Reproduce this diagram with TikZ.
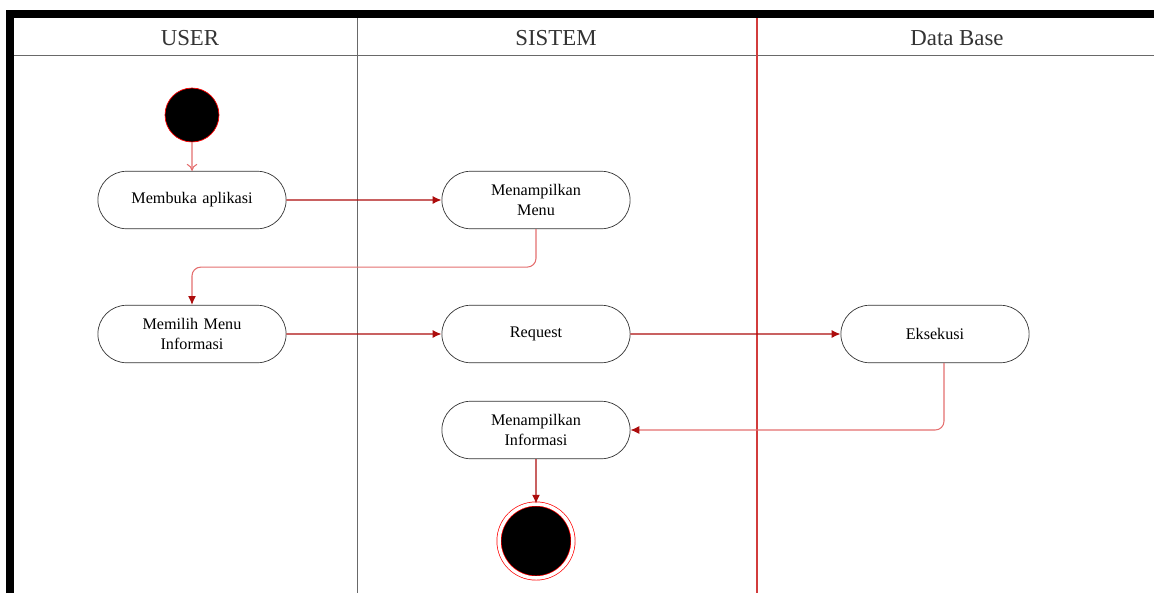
\documentclass[tikz,border=0pt]{standalone}
\usepackage{fontspec}
\setmainfont{Liberation Serif}
\usetikzlibrary{arrows.meta,shapes.misc}
\definecolor{flowdark}{RGB}{172,12,12}
\definecolor{flowlight}{RGB}{228,110,110}
\definecolor{lanegray}{RGB}{105,105,105}
\definecolor{lanered}{RGB}{210,60,60}

\begin{document}
\begin{tikzpicture}[x=0.02cm,y=-0.02cm,
  action/.style={draw=black!80,rounded rectangle,minimum width=4.0cm,minimum height=1.15cm,
    text width=2.7cm,align=center,font=\fontsize{9.2}{11}\selectfont},
  lane/.style={font=\fontsize{13}{15}\selectfont,text=black!80},
  flow/.style={draw=flowdark,line width=0.7pt,-{Latex[length=5pt,width=4.5pt]}},
  flowsoft/.style={draw=flowlight,line width=0.6pt,rounded corners=5pt,-{Latex[length=5pt,width=4.5pt,color=flowdark]}}]
\useasboundingbox (0,0) rectangle (1154,593);
% outline and lanes
\draw[line width=4.8pt] (10,593) -- (10,14) -- (1154,14);
\draw[lanegray] (14,55) -- (1154,55);
\draw[lanegray] (357,18) -- (357,593);
\draw[lanered,line width=0.7pt] (757,18) -- (757,593);
\node[lane] (huser) at (190,38) {USER};
\node[lane] (hsys) at (556,38) {SISTEM};
\node[lane] (hdb) at (957,38) {Data Base};
% states
\node[circle,fill=black,draw=red,minimum size=1.08cm,inner sep=0pt] (start) at (192,115) {};
\node[action] (buka) at (192,200) {Membuka aplikasi};
\node[action] (menu) at (536,200) {Menampilkan\\Menu};
\node[action] (pilih) at (192,334) {Memilih Menu\\Informasi};
\node[action] (req) at (536,334) {Request};
\node[action] (eks) at (935,334) {Eksekusi};
\node[action] (info) at (536,430) {Menampilkan\\Informasi};
\node[circle,fill=black,draw=red,double=white,double distance=2pt,minimum size=1.48cm,inner sep=0pt] (stop) at (536,541) {};
% flows
\draw[draw=flowlight,line width=0.6pt,-{To[length=4pt,width=6pt]}] (start) -- (buka);
\draw[flow] (buka) -- (menu);
\draw[flowsoft] (menu.south) -- ++(0,38) -| (pilih.north);
\draw[flow] (pilih) -- (req);
\draw[flow] (req) -- (eks);
\draw[flowsoft] ([xshift=0.18cm]eks.south) |- (info.east);
\draw[flow] (info) -- (stop);
\end{tikzpicture}
\end{document}
